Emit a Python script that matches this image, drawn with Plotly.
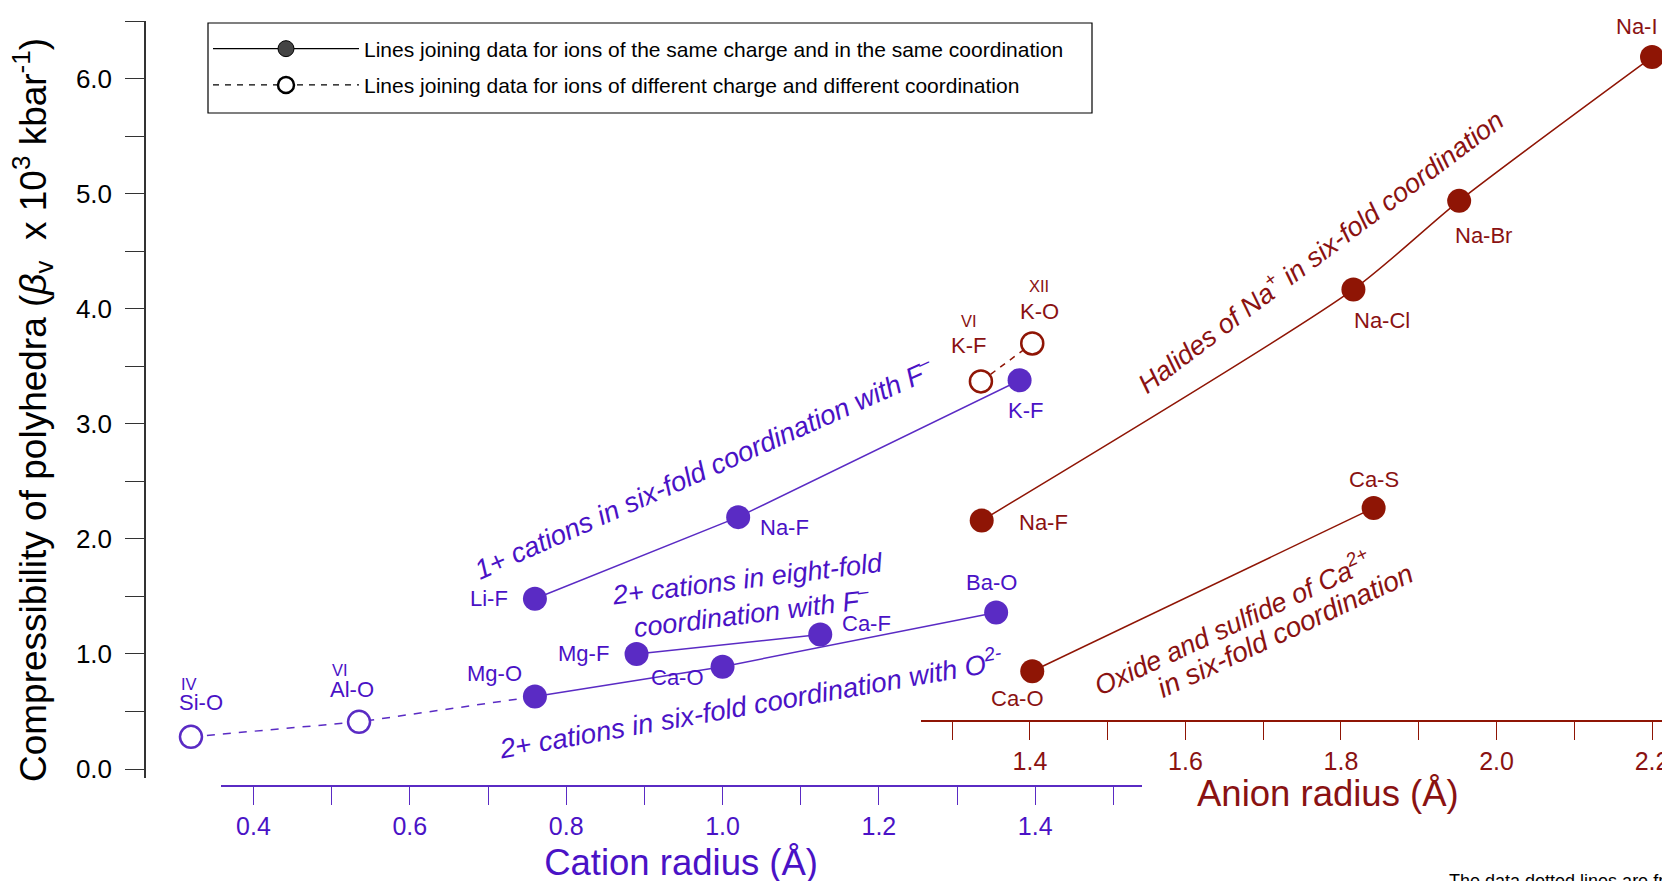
import plotly.graph_objects as go

# ---------------- data ----------------
# Cation-radius series (purple, lower x axis)
mono_F_labels = ["Li-F", "Na-F", "K-F"]
mono_F_x = [0.76, 1.02, 1.38]
mono_F_y = [1.48, 2.19, 3.38]

eight_F_labels = ["Mg-F", "Ca-F"]
eight_F_x = [0.89, 1.125]
eight_F_y = [1.00, 1.17]

six_O_labels = ["Mg-O", "Ca-O", "Ba-O"]
six_O_x = [0.76, 1.00, 1.35]
six_O_y = [0.63, 0.89, 1.36]

diff_O_labels = ["Si-O", "Al-O", "Mg-O"]
diff_O_coord = ["IV", "VI", ""]
diff_O_x = [0.32, 0.535, 0.76]
diff_O_y = [0.28, 0.41, 0.63]

# Anion-radius series (dark red, upper x axis)
na_hal_labels = ["Na-F", "Na-Cl", "Na-Br", "Na-I"]
na_hal_x = [1.338, 1.816, 1.952, 2.20]
na_hal_y = [2.16, 4.17, 4.94, 6.19]

ca_labels = ["Ca-O", "Ca-S"]
ca_x = [1.403, 1.842]
ca_y = [0.85, 2.27]

k_labels = ["K-F", "K-O"]
k_coord = ["VI", "XII"]
k_x = [1.337, 1.403]
k_y = [3.37, 3.70]

y_ticks = [0.0, 0.5, 1.0, 1.5, 2.0, 2.5, 3.0, 3.5, 4.0, 4.5, 5.0, 5.5, 6.0, 6.5]
cation_ticks = [0.4, 0.5, 0.6, 0.7, 0.8, 0.9, 1.0, 1.1, 1.2, 1.3, 1.4, 1.5]
anion_ticks = [1.3, 1.4, 1.5, 1.6, 1.7, 1.8, 1.9, 2.0, 2.1, 2.2]

legend_texts = [
    "Lines joining data for ions of the same charge and in the same coordination",
    "Lines joining data for ions of different charge and different coordination",
]

# ---------------- style ----------------
PUR = "#5a2bc4"
PUR_T = "#4a12c6"
RED = "#8f1505"
RED_T = "#8a1212"
FONT = "Liberation Sans, Arial, Helvetica, sans-serif"
MS = 24
W = 1533.0   # plot-area width in px
L0 = 145.0   # page x of plot-area left edge
T0 = 21.0    # page y of plot-area top edge
H = 765.0    # plot-area height

def px(p):
    return (p - L0) / W

def py(p):
    return 1 - (p - T0) / H

fig = go.Figure()

def solid(x, y, color, xa, shape="linear"):
    fig.add_trace(go.Scatter(
        x=x, y=y, xaxis=xa, yaxis="y", mode="lines+markers",
        line=dict(color=color, width=1.5, shape=shape, smoothing=0.7),
        marker=dict(size=MS, color=color, line=dict(width=0)),
        cliponaxis=False, showlegend=False, hoverinfo="skip"))

# dummy trace so that the visible cation axis is drawn
fig.add_trace(go.Scatter(x=[None], y=[None], xaxis="x", yaxis="y",
                         showlegend=False, hoverinfo="skip"))

# dashed cation line + open circles
fig.add_trace(go.Scatter(
    x=diff_O_x, y=diff_O_y, xaxis="x3", yaxis="y", mode="lines",
    line=dict(color=PUR, width=1.5, dash="8px,8px"),
    showlegend=False, hoverinfo="skip"))
fig.add_trace(go.Scatter(
    x=diff_O_x[:2], y=diff_O_y[:2], xaxis="x3", yaxis="y", mode="markers",
    marker=dict(size=MS - 2, color="white", line=dict(color=PUR, width=2.5)),
    cliponaxis=False, showlegend=False, hoverinfo="skip"))

solid(mono_F_x, mono_F_y, PUR, "x3")
solid(eight_F_x, eight_F_y, PUR, "x3")
solid(six_O_x, six_O_y, PUR, "x3")

# anion series
fig.add_trace(go.Scatter(
    x=k_x, y=k_y, xaxis="x2", yaxis="y", mode="lines",
    line=dict(color=RED, width=1.5, dash="6px,6px"),
    showlegend=False, hoverinfo="skip"))
fig.add_trace(go.Scatter(
    x=k_x, y=k_y, xaxis="x2", yaxis="y", mode="markers",
    marker=dict(size=MS - 2, color="white", line=dict(color=RED, width=2.5)),
    cliponaxis=False, showlegend=False, hoverinfo="skip"))
solid(na_hal_x, na_hal_y, RED, "x2", shape="spline")
solid(ca_x, ca_y, RED, "x2")

# legend entries
fig.add_trace(go.Scatter(
    x=[None], y=[None], mode="lines+markers", name=legend_texts[0],
    line=dict(color="black", width=1.2),
    marker=dict(size=20, color="#444444", line=dict(color="black", width=1)),
    legendgroup="a"))
fig.add_trace(go.Scatter(
    x=[None], y=[None], mode="lines+markers", name=legend_texts[1],
    line=dict(color="black", width=1.2, dash="6px,6px"),
    marker=dict(size=20, color="white", line=dict(color="black", width=2.5)),
    legendgroup="b"))

# ---------------- annotations ----------------
ann = []
LS = 22

def lab(x, y, text, color, dx, dy, xa, size=LS, xanchor="center"):
    ann.append(dict(x=x, y=y, xref=xa, yref="y", text=text, showarrow=False,
                    xshift=dx, yshift=dy, xanchor=xanchor, yanchor="middle",
                    font=dict(family=FONT, size=size, color=color)))

# purple point labels
mono_off = [(-46, 0), (46, -10), (6, -30)]
for x, y, t, o in zip(mono_F_x, mono_F_y, mono_F_labels, mono_off):
    lab(x, y, t, PUR_T, *o, xa="x3")
eight_off = [(-53, 0), (46, 11)]
for x, y, t, o in zip(eight_F_x, eight_F_y, eight_F_labels, eight_off):
    lab(x, y, t, PUR_T, *o, xa="x3")
six_off = [(-40, 23), (-45, -11), (-5, 30)]
for x, y, t, o in zip(six_O_x, six_O_y, six_O_labels, six_off):
    lab(x, y, t, PUR_T, *o, xa="x3")
diff_off = [(-14, 34, 53), (-31, 32, 52)]
for x, y, t, c, o in zip(diff_O_x, diff_O_y, diff_O_labels, diff_O_coord, diff_off):
    lab(x, y, t, PUR_T, o[0], o[1], xa="x3", xanchor="left")
    lab(x, y, c, PUR_T, o[0] + 2, o[2], xa="x3", size=16.5, xanchor="left")

# dark red point labels
hal_off = [(62, -2), (29, -31), (24, -35), (-15, 31)]
for x, y, t, o in zip(na_hal_x, na_hal_y, na_hal_labels, hal_off):
    lab(x, y, t, RED_T, *o, xa="x2")
ca_off = [(-15, -27), (0, 28)]
for x, y, t, o in zip(ca_x, ca_y, ca_labels, ca_off):
    lab(x, y, t, RED_T, *o, xa="x2")
k_off = [(-12, 36, 60), (7, 32, 57)]
for x, y, t, c, o in zip(k_x, k_y, k_labels, k_coord, k_off):
    lab(x, y, t, RED_T, o[0], o[1], xa="x2")
    lab(x, y, c, RED_T, o[0], o[2], xa="x2", size=16.5)

# group captions (rotated, italic)
def cap(x, y, text, color, angle, xa, size=27):
    ann.append(dict(x=x, y=y, xref=xa, yref="y", text="<i>" + text + "</i>",
                    showarrow=False, textangle=angle,
                    font=dict(family=FONT, size=size, color=color)))

cap(0.975, 2.61, "1+ cations in six-fold coordination with F<sup>–</sup>", PUR_T, -24, "x3", size=27.5)
cap(1.034, 1.50, "2+ cations in eight-fold<br>coordination with F<sup>–</sup>", PUR_T, -7, "x3", size=27)
cap(1.036, 0.57, "2+ cations in six-fold coordination with O<sup>2-</sup>", PUR_T, -10, "x3", size=27.5)
cap(1.773, 4.51, "Halides of Na<sup>+</sup> in six-fold coordination", RED_T, -37, "x2", size=27)
cap(1.660, 1.28, "Oxide and sulfide of Ca<sup>2+</sup>", RED_T, -25, "x2", size=27)
cap(1.729, 1.20, "in six-fold coordination", RED_T, -25, "x2", size=28)

# y axis title
ann.append(dict(x=px(32), y=py(410), xref="paper", yref="paper",
                xanchor="center", yanchor="middle", textangle=-90,
                text="Compressibility of polyhedra (<i>β</i><sub>v</sub>  x 10<sup>3</sup> kbar<sup>-1</sup>)",
                showarrow=False, font=dict(family=FONT, size=37, color="black")))
# anion axis title
ann.append(dict(x=px(1328), y=py(793), xref="paper", yref="paper",
                xanchor="center", yanchor="middle",
                text="Anion radius (Å)", showarrow=False,
                font=dict(family=FONT, size=36.5, color=RED_T)))
# cut-off footnote
ann.append(dict(x=px(1447), y=py(869), xref="paper", yref="paper",
                text="The data dotted lines are from", showarrow=False,
                xanchor="left", yanchor="top",
                font=dict(family=FONT, size=18, color="black")))

# legend frame
shapes = [dict(type="rect", xref="paper", yref="paper",
               x0=px(208), x1=px(1092), y0=py(113), y1=py(23),
               line=dict(color="black", width=1.2), fillcolor="white", layer="below")]

# ---------------- layout ----------------
def tick_text(vals):
    return [f"{v:.1f}" if round(v * 10) % 2 == 0 else "" for v in vals]

fig.update_layout(
    width=1670, height=881,
    margin=dict(l=137, r=0, t=13, b=103, autoexpand=False),
    paper_bgcolor="white", plot_bgcolor="rgba(0,0,0,0)",
    font=dict(family=FONT),
    showlegend=True,
    legend=dict(x=px(208), y=py(28.5), xanchor="left", yanchor="top",
                borderwidth=0, bgcolor="rgba(0,0,0,0)",
                font=dict(family=FONT, size=21, color="black"),
                itemwidth=146, tracegroupgap=6),
    shapes=shapes,
    annotations=ann,
    yaxis=dict(
        domain=[0.0105, 1], range=[-0.078, 6.504], anchor="free", position=0,
        showline=True, linecolor="#333333", linewidth=1.5,
        ticks="outside", ticklen=19, tickwidth=1, tickcolor="#333333",
        tickvals=y_ticks,
        ticktext=[f"{v:.1f}" if v == int(v) else "" for v in y_ticks],
        tickfont=dict(family=FONT, size=26, color="black"),
        ticklabelstandoff=8,
        showgrid=False, zeroline=False, automargin=False,
    ),
    xaxis=dict(
        domain=[px(220.5), px(1141.7)], range=[0.3578, 1.5362], anchor="free", position=0,
        showline=True, linecolor=PUR, linewidth=1.5,
        ticks="outside", ticklen=18, tickwidth=1, tickcolor=PUR,
        tickvals=cation_ticks, ticktext=tick_text(cation_ticks),
        tickfont=dict(family=FONT, size=25, color=PUR_T),
        showgrid=False, zeroline=False, automargin=False,
        title=dict(text="Cation radius (Å)", font=dict(family=FONT, size=36.5, color=PUR_T), standoff=10),
    ),
    xaxis3=dict(
        domain=[0, px(1141.7)], range=[0.2612, 1.5362], anchor="y",
        visible=False, showgrid=False, zeroline=False,
    ),
    xaxis2=dict(
        domain=[px(921.2), 1], range=[1.2602, 2.2334], anchor="free", position=0.085,
        showline=True, linecolor=RED, linewidth=1.5,
        ticks="outside", ticklen=18, tickwidth=1, tickcolor=RED,
        tickvals=anion_ticks, ticktext=tick_text(anion_ticks),
        tickfont=dict(family=FONT, size=25, color=RED_T),
        showgrid=False, zeroline=False, automargin=False,
    ),
)

fig.write_html("out.html")
